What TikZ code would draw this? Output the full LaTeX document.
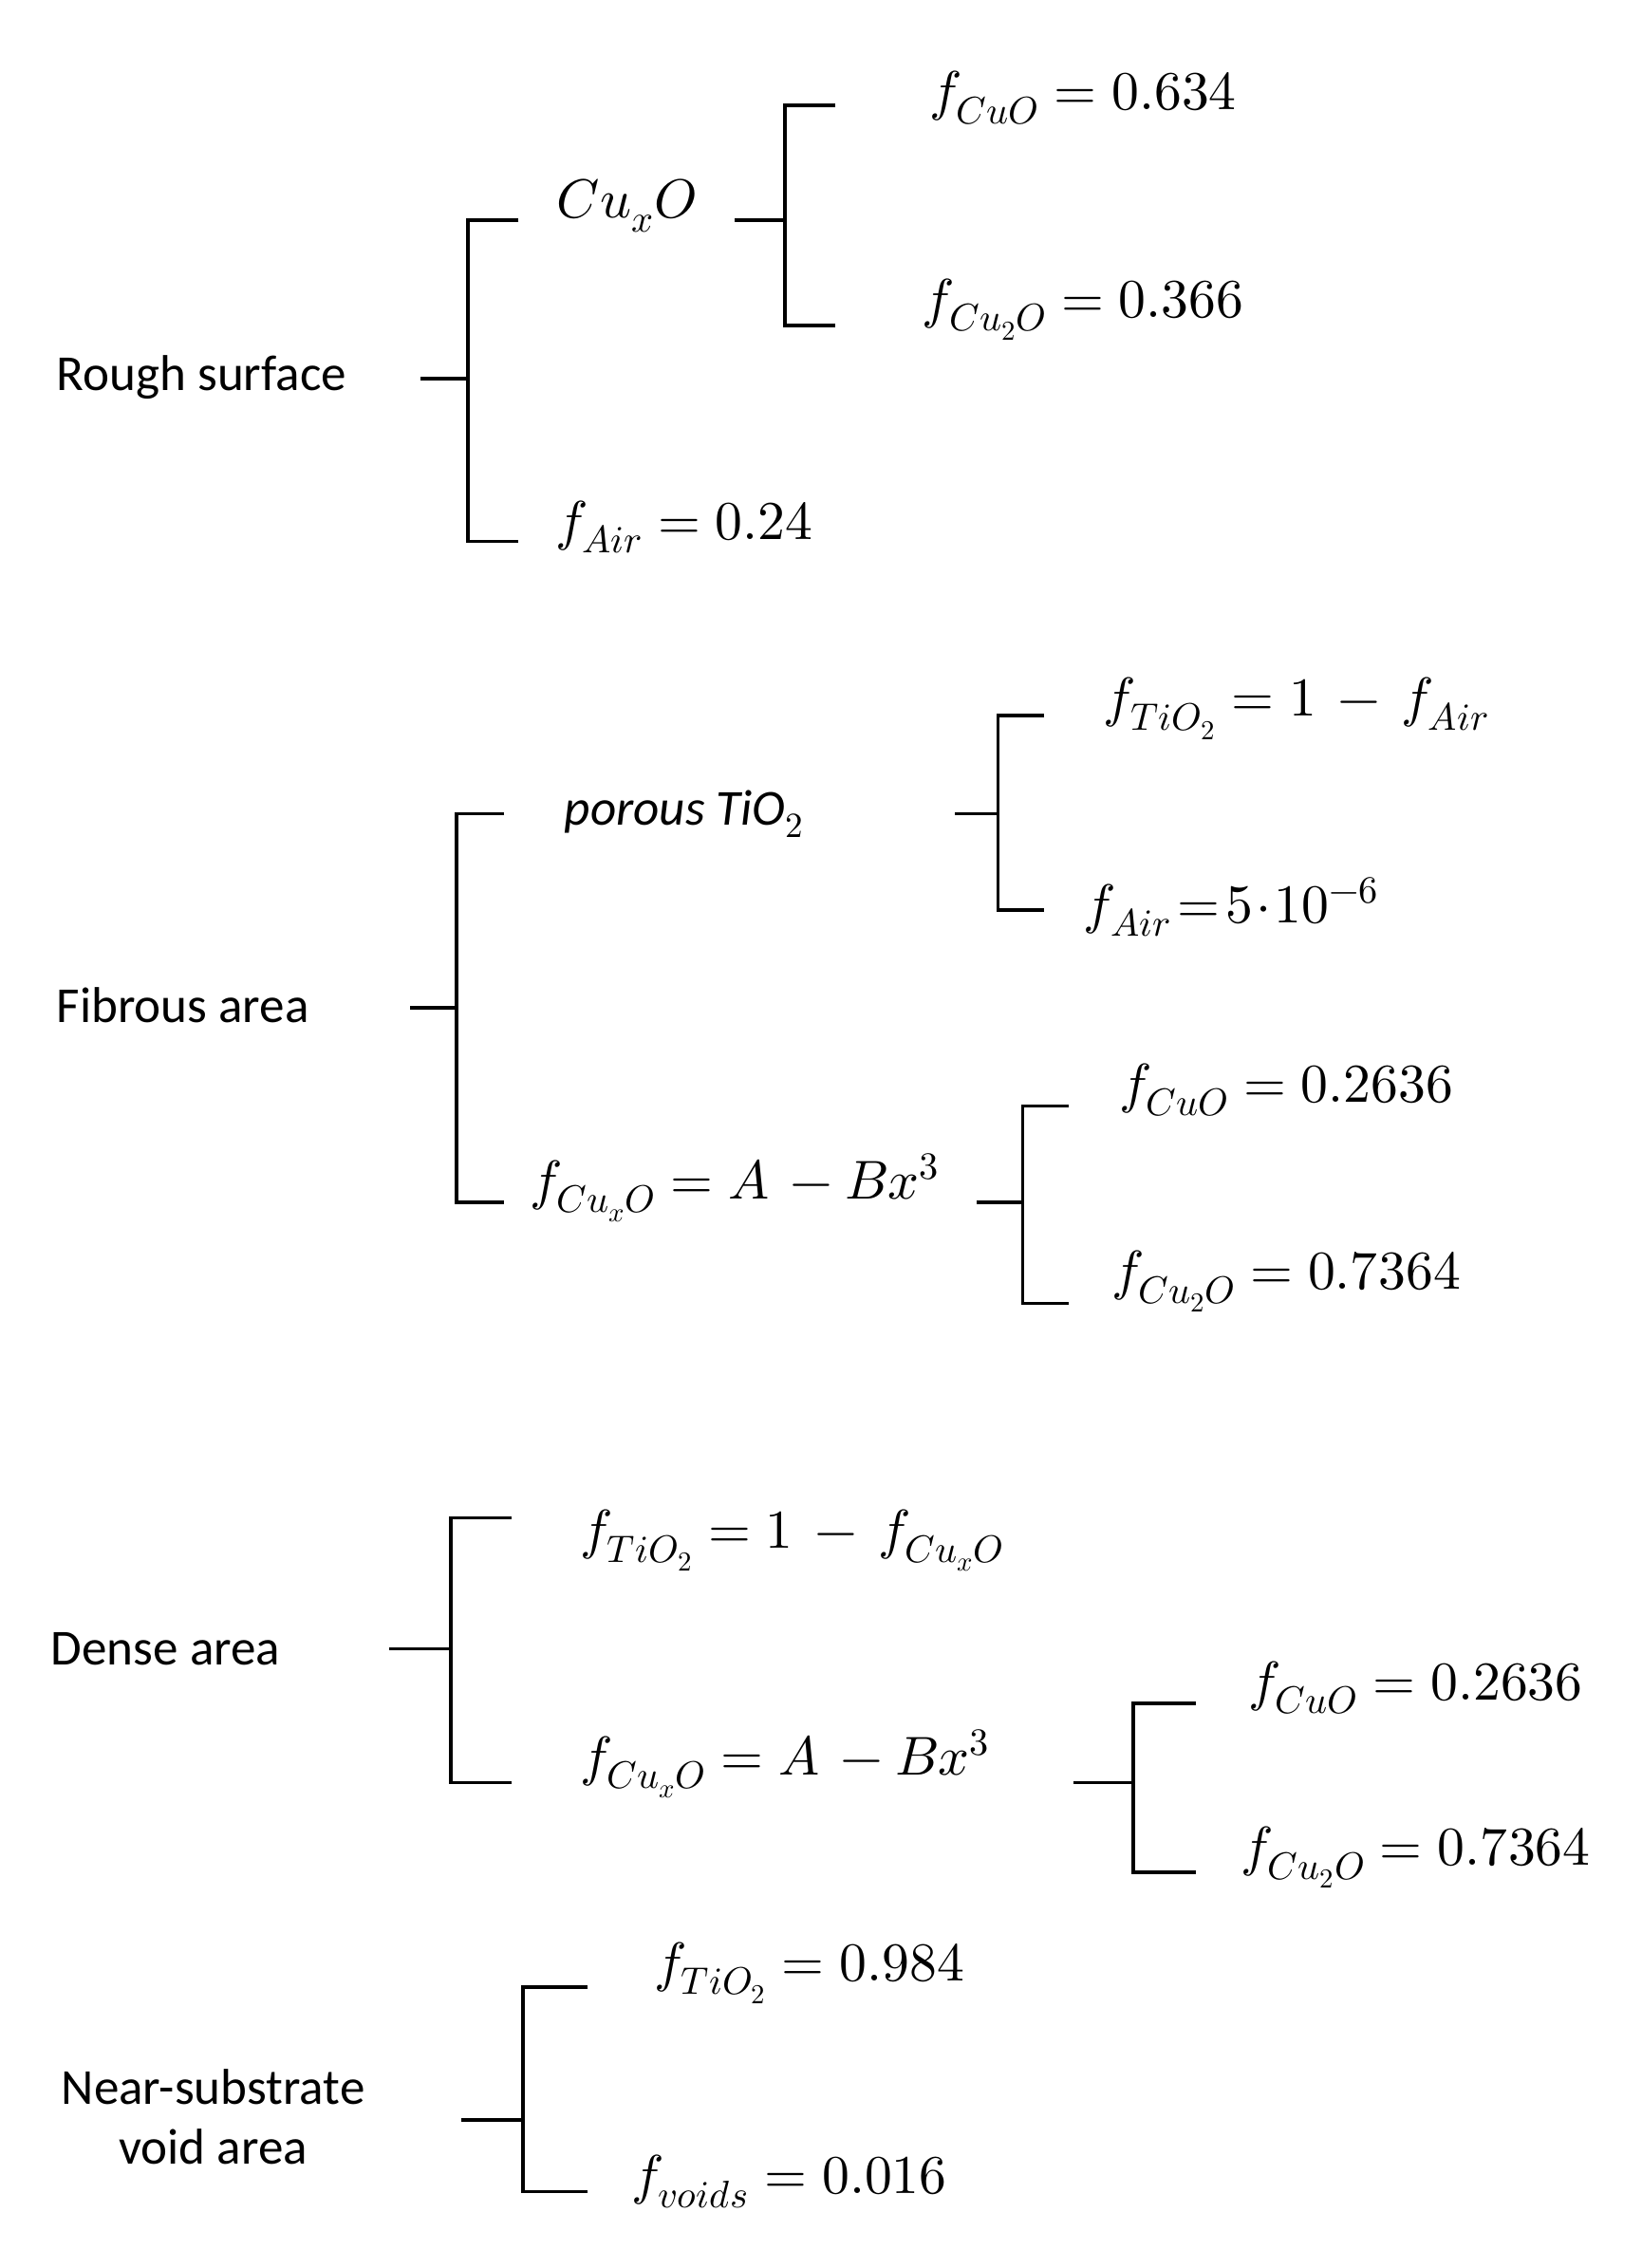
\documentclass[tikz,border=0pt]{standalone}
\usepackage{unicode-math}
\setmathfont{Latin Modern Math}
\setsansfont{Carlito}
\begin{document}
\begin{tikzpicture}[x=1pt,y=-1pt,
  br/.style={line width=2.4pt},
  lab/.style={font=\sffamily\fontsize{35}{42}\selectfont},
  eq/.style={font=\fontsize{38}{42}\selectfont}]
\useasboundingbox (0,0) rectangle (1140,1575);
% Rough surface
\node[lab] (rs) at (140,262) {Rough surface};
\node[eq] (cux) at (435,143) {$Cu_xO$};
\node[eq] (a1) at (752,68) {$f_{CuO}=0.634$};
\node[eq] (a2) at (752,215) {$f_{Cu_2O}=0.366$};
\node[eq] (a3) at (475,366) {$f_{Air}=0.24$};
\coordinate (s1) at (292,263);
\draw[br] (s1) -- (325,263) (360,153) -| (325,376) -- (360,376);
\draw[br] (510,153) -- (545,153) (580,73) -| (545,226) -- (580,226);
% Fibrous
\node[lab] (fa) at (127,698) {Fibrous area};
\node[lab] (pt) at (475,565) {\itshape porous TiO$_2$};
\node[eq] (b1) at (900,492) {$f_{TiO_2}=1\,-\,f_{Air}$};
\node[eq] (b2) at (855,630) {$f_{Air}\!=\!5\!\cdot\!10^{-6}$};
\node[eq] (b3) at (510,825) {$f_{Cu_xO}=A\,-Bx^3$};
\node[eq] (b4) at (893,757) {$f_{CuO}=0.2636$};
\node[eq] (b5) at (893,890) {$f_{Cu_2O}=0.7364$};
\draw[br] (285,700) -- (317,700) (350,565) -| (317,835) -- (350,835);
\draw[br] (663,565) -- (693,565) (725,497) -| (693,632) -- (725,632);
\draw[br] (678,835) -- (710,835) (742,768) -| (710,905) -- (742,905);
% Dense
\node[lab] (da) at (115,1145) {Dense area};
\node[eq] (c1) at (550,1070) {$f_{TiO_2}=1\,-\,f_{Cu_xO}$};
\node[eq] (c2) at (545,1225) {$f_{Cu_xO}=A\,-Bx^3$};
\node[eq] (c3) at (983,1172) {$f_{CuO}=0.2636$};
\node[eq] (c4) at (983,1290) {$f_{Cu_2O}=0.7364$};
\draw[br] (270,1145) -- (313,1145) (355,1054) -| (313,1238) -- (355,1238);
\draw[br] (745,1238) -- (787,1238) (830,1183) -| (787,1300) -- (830,1300);
% Near-substrate
\node[lab,align=center] (ns) at (148,1470) {Near-substrate\\void area};
\node[eq] (d1) at (562,1370) {$f_{TiO_2}=0.984$};
\node[eq] (d2) at (548,1515) {$f_{voids}=0.016$};
\draw[br] (320,1472) -- (363,1472) (408,1380) -| (363,1522) -- (408,1522);
\end{tikzpicture}
\end{document}
